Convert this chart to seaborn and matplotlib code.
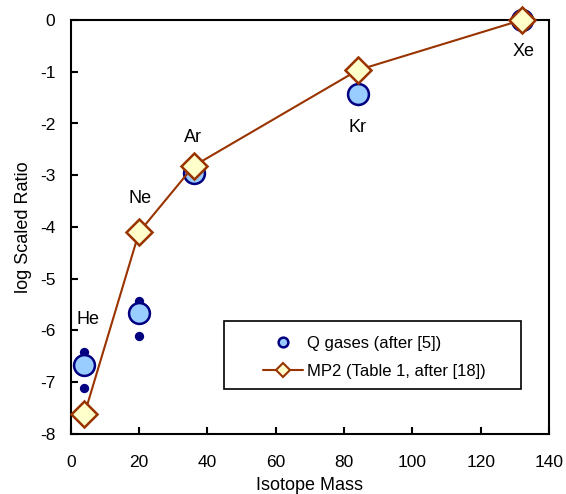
import numpy as np
import pandas as pd
import matplotlib.pyplot as plt
import matplotlib.patches as mpatches
import seaborn as sns

# values
elements = ['He', 'Ne', 'Ar', 'Kr', 'Xe']
mass = [4, 20, 36, 84, 132]
q_gases = [-6.66, -5.66, -2.96, -1.43, 0.0]
q_upper = [-6.42, -5.43, -2.86, -1.32, 0.05]
q_lower = [-7.11, -6.10, -3.05, -1.56, -0.05]
mp2 = [-7.62, -4.10, -2.82, -0.97, 0.0]

label_x = [5.1, 20.3, 35.8, 83.9, 132.5]
label_y = [-5.79, -3.44, -2.27, -2.08, -0.60]

df = pd.DataFrame({'mass': mass, 'q': q_gases, 'qu': q_upper,
                   'ql': q_lower, 'mp2': mp2})

sns.set_style('ticks')
plt.rcParams['font.family'] = ['Liberation Sans', 'DejaVu Sans']
plt.rcParams['axes.unicode_minus'] = False
for k in ['text.color', 'axes.labelcolor', 'xtick.color', 'ytick.color',
          'axes.edgecolor']:
    plt.rcParams[k] = 'black'

fig = plt.figure(figsize=(5.66, 4.94), dpi=100)
ax = fig.add_axes([0.125, 0.1215, 0.845, 0.838])

navy = '#000080'
brown = '#993300'

# range dots (upper / lower)
sns.scatterplot(data=df, x='mass', y='qu', ax=ax, s=45, color=navy,
                edgecolor=navy, linewidth=0, zorder=3, clip_on=False)
sns.scatterplot(data=df, x='mass', y='ql', ax=ax, s=45, color=navy,
                edgecolor=navy, linewidth=0, zorder=3, clip_on=False)
# Q gases
ax.plot(df['mass'], df['q'], 'o', ms=15, mfc='#99CCFF', mec=navy, mew=1.8,
        zorder=4, clip_on=False)
# MP2 line
sns.lineplot(data=df, x='mass', y='mp2', ax=ax, color=brown, lw=1.5,
             marker='D', markersize=13, markerfacecolor='#FFFFCC',
             markeredgecolor=brown, markeredgewidth=1.8, zorder=5,
             clip_on=False)

for el, lx, ly in zip(elements, label_x, label_y):
    ax.text(lx, ly, el, fontsize=13, ha='center', va='center')

ax.set_xlim(0, 140)
ax.set_ylim(-8, 0)
ax.set_xticks(np.arange(0, 141, 20))
ax.set_yticks(np.arange(-8, 1, 1))
ax.set_xlabel('Isotope Mass', fontsize=13, labelpad=5)
ax.set_ylabel('log Scaled Ratio', fontsize=13, labelpad=6)
ax.tick_params(direction='in', length=5, width=1.5, labelsize=12.5,
               top=False, right=False)
ax.tick_params(axis='x', pad=15)
ax.tick_params(axis='y', pad=11)
for sp in ax.spines.values():
    sp.set_linewidth(1.5)
    sp.set_visible(True)

# legend box
ax.add_patch(mpatches.Rectangle((0.3205, 0.109), 0.621, 0.1646,
                                transform=ax.transAxes, fill=True,
                                facecolor='white', edgecolor='black',
                                lw=1.2, zorder=6))
handles = [
    plt.Line2D([], [], ls='', marker='o', ms=7, mfc='#99CCFF',
               mec=navy, mew=1.8),
    plt.Line2D([], [], color=brown, lw=1.5, marker='D', ms=7,
               mfc='#FFFFCC', mec=brown, mew=1.5),
]
labels = ['Q gases (after [5])', 'MP2 (Table 1, after [18])']
leg = ax.legend(handles, labels, loc='center left',
                bbox_to_anchor=(0.402, 0.185), frameon=False, fontsize=12,
                borderpad=0, borderaxespad=0, handlelength=2.4,
                handletextpad=0.25, labelspacing=0.75)
leg.set_zorder(7)

fig.savefig('out.png', dpi=100)
